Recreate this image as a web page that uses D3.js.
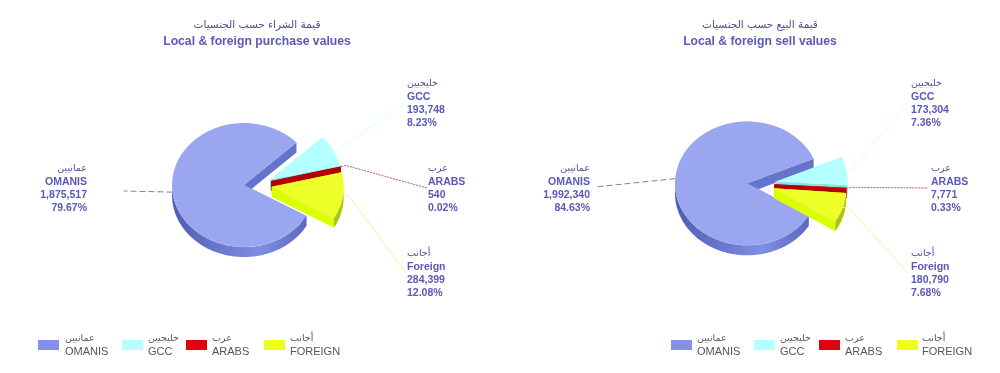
<!DOCTYPE html>
<html>
<head>
<meta charset="utf-8">
<style>
  html, body { margin: 0; padding: 0; background: #fff; }
  svg { display: block; filter: blur(0.35px); }
  text { font-family: "Liberation Sans", Arial, sans-serif; }
  .ar { font-family: "DejaVu Sans", sans-serif; }
</style>
<script src="https://cdn.jsdelivr.net/npm/d3@7"></script>
</head>
<body>
<svg id="chart" width="1000" height="373"></svg>
<script>
// chart values
const arabicNames = ["عمانيين", "خليجيين", "عرب", "أجانب"];
const sliceNames = ["OMANIS", "GCC", "ARABS", "Foreign"];
const legendNames = ["OMANIS", "GCC", "ARABS", "FOREIGN"];
const purchaseValues = [1875517, 193748, 540, 284399];
const purchasePercents = ["79.67%", "8.23%", "0.02%", "12.08%"];
const sellValues = [1992340, 173304, 7771, 180790];
const sellPercents = ["84.63%", "7.36%", "0.33%", "7.68%"];

const topColors = ["#9aa6f0", "#b4ffff", "#e4000f", "#eeff2a"];
const edgeColors = ["#6473cc", "#8fe0e0", "#b40000", "#dcff00"];
const rimColors = ["#5a69c0", "#8fe0e0", "#a80000", "#a6c810"];
const legendColors = ["#8591e6", "#b4ffff", "#e00010", "#efff1a"];
const leaderColors = ["#8678b4", "#d2ffff", "#b8557c", "#f4f09a"];
const leaderDashes = ["6,3", null, "2,1", null];

const svg = d3.select("#chart");
const fmt = d3.format(",");
const deg = Math.PI / 180;

const defs = svg.append("defs");
const rimGrad = defs.append("linearGradient").attr("id", "rimGrad");
rimGrad.append("stop").attr("offset", "0%").attr("stop-color", "#4f5eb4");
rimGrad.append("stop").attr("offset", "65%").attr("stop-color", "#7f8de2");
rimGrad.append("stop").attr("offset", "100%").attr("stop-color", "#5a69c0");

const left = {
  cx: 244, cy: 185, rx: 72, ry: 62, depth: 10, start: 120,
  values: purchaseValues, percents: purchasePercents,
  explode: [[0, 0], [26, -5], [27, -4], [27.7, 1.7]],
  labels: [[87, 168, "end"], [407, 83, "start"], [428, 168, "start"], [407, 253, "start"]],
  ends: [[124, 191], [407, 102], [427, 188], [406, 273]],
  titleX: 257, arTitle: "قيمة الشراء حسب الجنسيات", enTitle: "Local & foreign purchase values",
  swatches: [38, 122, 186, 264], legendText: [65, 148, 212, 290]
};
const right = {
  cx: 747.3, cy: 183.3, rx: 72.3, ry: 62, depth: 10, start: 122,
  values: sellValues, percents: sellPercents,
  explode: [[0, 0], [28, -1.6], [27, 1], [26.7, 5]],
  labels: [[590, 168, "end"], [911, 83, "start"], [931, 168, "start"], [911, 253, "start"]],
  ends: [[595, 187], [908, 103], [928, 188], [908, 273]],
  titleX: 760, arTitle: "قيمة البيع حسب الجنسيات", enTitle: "Local & foreign sell values",
  swatches: [671, 754, 819, 897], legendText: [697, 780, 845, 922]
};

function drawPie(cfg) {
  const g = svg.append("g");
  const startRad = cfg.start * deg;
  const slices = d3.pie().sort(null).startAngle(startRad).endAngle(startRad + 2 * Math.PI)(cfg.values);
  const arc = d3.arc().innerRadius(0).outerRadius(cfg.rx);
  const line = d3.line();
  const yRatio = cfg.ry / cfg.rx;

  // point on the top rim of a slice, relative to the slice tip
  const rimX = a => cfg.rx * Math.sin(a);
  const rimY = a => -cfg.ry * Math.cos(a);

  slices.forEach((s, i) => {
    const ox = cfg.cx + cfg.explode[i][0];
    const oy = cfg.cy + cfg.explode[i][1];
    const sg = g.append("g").attr("transform", `translate(${ox},${oy})`);

    // radial walls (the one facing the viewer shows, the other is covered by the top)
    [s.startAngle, s.endAngle].forEach(a => {
      sg.append("path")
        .attr("d", line([[0, 0], [rimX(a), rimY(a)], [rimX(a), rimY(a) + cfg.depth], [0, cfg.depth]]) + "Z")
        .attr("fill", edgeColors[i]);
    });

    // outer wall, only the front half of the ellipse
    [0, 2 * Math.PI].forEach(t => {
      const a0 = Math.max(s.startAngle, 90 * deg + t);
      const a1 = Math.min(s.endAngle, 270 * deg + t);
      if (a1 <= a0) return;
      const steps = d3.range(a0, a1, 1 * deg).concat([a1]);
      const upper = steps.map(a => [rimX(a), rimY(a)]);
      const lower = steps.slice().reverse().map(a => [rimX(a), rimY(a) + cfg.depth]);
      sg.append("path")
        .attr("d", line(upper.concat(lower)) + "Z")
        .attr("fill", i === 0 ? "url(#rimGrad)" : rimColors[i]);
    });

    sg.append("path")
      .attr("transform", `scale(1,${yRatio})`)
      .attr("d", arc(s))
      .attr("fill", topColors[i]);

    // leader line from the middle of the slice rim out to the label
    const mid = (s.startAngle + s.endAngle) / 2;
    const px = ox + rimX(mid);
    const py = oy + rimY(mid);
    const elbow = i === 0 ? [] : [[px + 5, py - 1]];
    g.append("path")
      .attr("d", line([[px, py]].concat(elbow, [cfg.ends[i]])))
      .attr("fill", "none")
      .attr("stroke", leaderColors[i])
      .attr("stroke-width", 1)
      .attr("stroke-dasharray", leaderDashes[i]);

    // four line label
    const [lx, ly, anchor] = cfg.labels[i];
    const label = svg.append("g").attr("text-anchor", anchor).attr("fill", "#5a58b8");
    label.append("text").attr("class", "ar").attr("x", lx).attr("y", ly + 3)
      .attr("font-size", 9.5).attr("fill", "#4e4c9c").text(arabicNames[i]);
    [sliceNames[i], fmt(cfg.values[i]), cfg.percents[i]].forEach((txt, k) => {
      label.append("text").attr("x", lx).attr("y", ly + 17 + k * 12.8)
        .attr("font-size", 10.5).attr("font-weight", "bold").text(txt);
    });
  });

  // titles
  svg.append("text").attr("class", "ar").attr("x", cfg.titleX).attr("y", 28)
    .attr("text-anchor", "middle").attr("font-size", 10.5).attr("fill", "#4a4a9c").text(cfg.arTitle);
  svg.append("text").attr("x", cfg.titleX).attr("y", 44.5)
    .attr("text-anchor", "middle").attr("font-size", 12.2).attr("font-weight", "bold")
    .attr("fill", "#5a58c0").text(cfg.enTitle);

  // legend
  legendNames.forEach((name, i) => {
    svg.append("rect").attr("x", cfg.swatches[i]).attr("y", 340).attr("width", 21).attr("height", 10)
      .attr("fill", legendColors[i]);
    svg.append("text").attr("class", "ar").attr("x", cfg.legendText[i]).attr("y", 341)
      .attr("font-size", 9.5).attr("fill", "#555").text(arabicNames[i]);
    svg.append("text").attr("x", cfg.legendText[i]).attr("y", 355)
      .attr("font-size", 11).attr("fill", "#555").text(name);
  });
}

drawPie(left);
drawPie(right);
</script>
</body>
</html>
